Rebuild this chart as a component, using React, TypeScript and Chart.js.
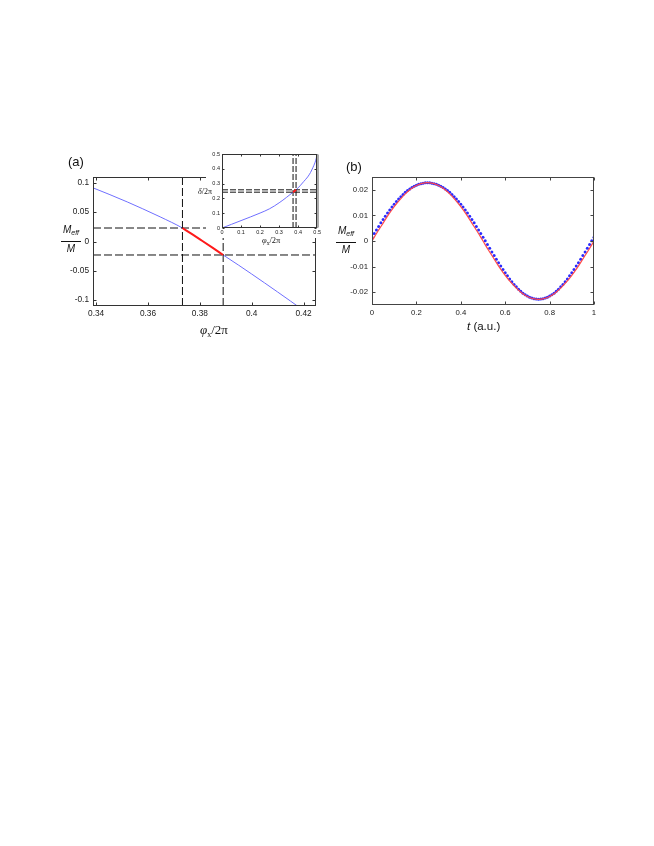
import React, { useEffect, useRef } from "react";
import { Chart, registerables } from "chart.js";
Chart.register(...registerables);

// ---------- Panel (a) main plot ----------
const mainXRange = [0.3388, 0.4248];
const mainYRange = [-0.11, 0.11];
const mainXTicks = [0.34, 0.36, 0.38, 0.4, 0.42];
const mainXLabels = ["0.34", "0.36", "0.38", "0.4", "0.42"];
const mainYTicks = [-0.1, -0.05, 0, 0.05, 0.1];
const mainYLabels = ["-0.1", "-0.05", "0", "0.05", "0.1"];
const mainCurveX = [0.3388, 0.345, 0.352, 0.358, 0.3647, 0.3733, 0.377, 0.381, 0.385, 0.389, 0.395, 0.4, 0.405, 0.41, 0.415, 0.42];
const mainCurveY = [0.0915, 0.0805, 0.0675, 0.0557, 0.042, 0.023, 0.0125, 0.0008, -0.011, -0.023, -0.0405, -0.0555, -0.0707, -0.0861, -0.1017, -0.1175];
const mainRedX = [0.3733, 0.377, 0.381, 0.385, 0.389];
const mainRedY = [0.023, 0.0125, 0.0008, -0.011, -0.023];
const mainDashY = [0.023, -0.023];
const dashX = [0.3733, 0.389];

// ---------- Panel (a) inset ----------
const insetXRange = [0, 0.5];
const insetYRange = [0, 0.5];
const insetTicks = [0, 0.1, 0.2, 0.3, 0.4, 0.5];
const insetLabels = ["0", "0.1", "0.2", "0.3", "0.4", "0.5"];
const insetCurveX = [0, 0.05, 0.1, 0.15, 0.2, 0.25, 0.3, 0.34, 0.3733, 0.381, 0.389, 0.41, 0.43, 0.45, 0.465, 0.478, 0.488, 0.495, 0.5];
const insetCurveY = [0, 0.025, 0.05, 0.075, 0.101, 0.13, 0.17, 0.208, 0.242, 0.25, 0.258, 0.285, 0.315, 0.345, 0.375, 0.41, 0.44, 0.47, 0.5];
const insetRedX = [0.3733, 0.381, 0.389];
const insetRedY = [0.242, 0.25, 0.258];
const insetDashY = [0.258, 0.242];

// ---------- Panel (b) ----------
const bXRange = [0, 1];
const bYRange = [-0.025, 0.025];
const bXTicks = [0, 0.2, 0.4, 0.6, 0.8, 1];
const bXLabels = ["0", "0.2", "0.4", "0.6", "0.8", "1"];
const bYTicks = [-0.02, -0.01, 0, 0.01, 0.02];
const bYLabels = ["-0.02", "-0.01", "0", "0.01", "0.02"];
const redStep = 0.025;
const redValues = [
  0, 0.0036, 0.007, 0.0104, 0.0134, 0.0161, 0.0184, 0.0203, 0.0217, 0.0225, 0.0228,
  0.0225, 0.0217, 0.0203, 0.0184, 0.0161, 0.0134, 0.0104, 0.007, 0.0036, 0,
  -0.0036, -0.007, -0.0104, -0.0134, -0.0161, -0.0184, -0.0203, -0.0217, -0.0225, -0.0228,
  -0.0225, -0.0217, -0.0203, -0.0184, -0.0161, -0.0134, -0.0104, -0.007, -0.0036, 0,
];
const dotStep = 0.01;
const blueDots = [
  0.0015, 0.0029, 0.0043, 0.0057, 0.0071, 0.0084, 0.0097, 0.0109, 0.0121, 0.0133, 0.0144, 0.0154, 0.0164,
  0.0173, 0.0182, 0.019, 0.0197, 0.0203, 0.0209, 0.0214, 0.0218, 0.0222, 0.0224, 0.0226, 0.0228, 0.0228,
  0.0228, 0.0226, 0.0224, 0.0222, 0.0218, 0.0214, 0.0209, 0.0203, 0.0197, 0.019, 0.0182, 0.0173, 0.0164,
  0.0154, 0.0144, 0.0133, 0.0121, 0.0109, 0.0097, 0.0084, 0.0071, 0.0057, 0.0043, 0.0029, 0.0015,
  0.0001, -0.0014, -0.0028, -0.0043, -0.0057, -0.0071, -0.0085, -0.0098, -0.0111, -0.0124, -0.0136, -0.0148,
  -0.0159, -0.017, -0.0179, -0.0188, -0.0196, -0.0204, -0.021, -0.0215, -0.022, -0.0223, -0.0226, -0.0227, -0.0228,
  -0.0227, -0.0226, -0.0223, -0.022, -0.0215, -0.021, -0.0204, -0.0196, -0.0188, -0.0179, -0.017, -0.0159,
  -0.0148, -0.0136, -0.0124, -0.0111, -0.0098, -0.0085, -0.0071, -0.0057, -0.0043, -0.0028, -0.0014, 0.0001, 0.0015,
];

const pts = (xs: number[], ys: number[]) => xs.map((x, i) => ({ x, y: ys[i] }));

const boxPlugin = {
  id: "box",
  afterDatasetsDraw(chart: any, _a: any, opts: any) {
    const { ctx, chartArea: a, scales } = chart;
    const L = Math.round(a.left) + 0.5;
    const R = Math.round(a.right) - 0.5;
    const T = Math.round(a.top) + 0.5;
    const B = Math.round(a.bottom) - 0.5;
    const tl = opts.tick ?? 3;
    ctx.save();
    ctx.setLineDash([]);
    ctx.strokeStyle = opts.color || "#333";
    ctx.lineWidth = 1;
    ctx.beginPath();
    for (const t of scales.x.ticks) {
      const p = Math.round(scales.x.getPixelForValue(t.value)) + 0.5;
      ctx.moveTo(p, B);
      ctx.lineTo(p, B - tl);
      ctx.moveTo(p, T);
      ctx.lineTo(p, T + tl);
    }
    for (const t of scales.y.ticks) {
      const p = Math.round(scales.y.getPixelForValue(t.value)) + 0.5;
      ctx.moveTo(L, p);
      ctx.lineTo(L + tl, p);
      ctx.moveTo(R, p);
      ctx.lineTo(R - tl, p);
    }
    ctx.stroke();
    ctx.strokeRect(L, T, R - L, B - T);
    if (opts.rightBar) {
      ctx.strokeStyle = opts.rightBar;
      ctx.lineWidth = 2;
      ctx.beginPath();
      ctx.moveTo(R + 1.5, T);
      ctx.lineTo(R + 1.5, B);
      ctx.stroke();
    }
    ctx.restore();
  },
};

function scale(axis: "x" | "y", range: number[], ticks: number[], labels: string[], size: number, fit: number, padding: number) {
  return {
    type: "linear",
    min: range[0],
    max: range[1],
    grid: { display: false, drawTicks: false },
    border: { display: false },
    afterBuildTicks: (s: any) => {
      s.ticks = ticks.map((v) => ({ value: v }));
    },
    afterFit: (s: any) => {
      if (axis === "x") s.height = fit;
      else s.width = fit;
    },
    ticks: {
      autoSkip: false,
      maxRotation: 0,
      padding,
      color: "#1a1a1a",
      font: { family: "Liberation Sans", size },
      callback: (_v: any, i: number) => labels[i],
    },
  };
}

function baseOptions(padding: any, xs: any, ys: any, box: any) {
  return {
    responsive: false,
    animation: false,
    devicePixelRatio: 1,
    events: [],
    layout: { padding },
    plugins: { legend: { display: false }, tooltip: { enabled: false }, box },
    scales: { x: xs, y: ys },
  };
}

function mainConfig() {
  const dash = { borderColor: "#111", borderWidth: 1, borderDash: [8, 3], pointRadius: 0, showLine: true, order: 1 };
  return {
    type: "scatter",
    data: {
      datasets: [
        { data: pts(mainRedX, mainRedY), borderColor: "#ff1a1a", borderWidth: 2, pointRadius: 0, showLine: true, cubicInterpolationMode: "monotone", order: 0 },
        ...mainDashY.map((y) => ({ ...dash, data: [{ x: mainXRange[0], y }, { x: mainXRange[1], y }] })),
        ...dashX.map((x) => ({ ...dash, data: [{ x, y: mainYRange[0] }, { x, y: mainYRange[1] }] })),
        { data: pts(mainCurveX, mainCurveY), borderColor: "#6f6fff", borderWidth: 1, pointRadius: 0, showLine: true, cubicInterpolationMode: "monotone", order: 2 },
      ],
    },
    options: baseOptions(
      { top: 37, right: 14, left: 0, bottom: 0 },
      scale("x", mainXRange, mainXTicks, mainXLabels, 8.3, 59, 3),
      scale("y", mainYRange, mainYTicks, mainYLabels, 8.3, 73, 4),
      { color: "#333", tick: 3 }
    ),
    plugins: [boxPlugin],
  };
}

function insetConfig() {
  const dash = { borderColor: "#111", borderWidth: 1, borderDash: [6, 2], pointRadius: 0, showLine: true, order: 1 };
  return {
    type: "scatter",
    data: {
      datasets: [
        { data: pts(insetRedX, insetRedY), borderColor: "#ff1a1a", borderWidth: 2, pointRadius: 0, showLine: true, order: 0 },
        ...insetDashY.map((y) => ({ ...dash, data: [{ x: insetXRange[0], y }, { x: insetXRange[1], y }] })),
        ...dashX.map((x) => ({ ...dash, data: [{ x, y: insetYRange[0] }, { x, y: insetYRange[1] }] })),
        { data: pts(insetCurveX, insetCurveY), borderColor: "#6f6fff", borderWidth: 1, pointRadius: 0, showLine: true, cubicInterpolationMode: "monotone", order: 2 },
      ],
    },
    options: baseOptions(
      { top: 9, right: 4, left: 0, bottom: 0 },
      scale("x", insetXRange, insetTicks, insetLabels, 5.5, 10, 1),
      scale("y", insetYRange, insetTicks, insetLabels, 5.5, 16, 2),
      { color: "#333", tick: 2, rightBar: "#aaa" }
    ),
    plugins: [boxPlugin],
  };
}

function bConfig() {
  return {
    type: "scatter",
    data: {
      datasets: [
        { data: redValues.map((y, i) => ({ x: i * redStep, y })), borderColor: "#ff4a4a", borderWidth: 1.2, pointRadius: 0, showLine: true, cubicInterpolationMode: "monotone", order: 0 },
        { data: blueDots.map((y, i) => ({ x: i * dotStep, y })), backgroundColor: "#2a2aff", borderWidth: 0, pointRadius: 1.5, showLine: false, order: 1 },
      ],
    },
    options: baseOptions(
      { top: 37, right: 21, left: 0, bottom: 0 },
      scale("x", bXRange, bXTicks, bXLabels, 7.8, 60, 3),
      scale("y", bYRange, bYTicks, bYLabels, 7.8, 37, 4),
      { color: "#444", tick: 3 }
    ),
    plugins: [boxPlugin],
  };
}

function ChartCanvas({ left, top, width, height, make, bg }: any) {
  const ref = useRef<HTMLCanvasElement>(null);
  useEffect(() => {
    const c = new Chart(ref.current as any, make() as any);
    return () => c.destroy();
  }, []);
  return (
    <canvas
      ref={ref}
      width={width}
      height={height}
      style={{ position: "absolute", left, top, width, height, background: bg }}
    />
  );
}

function Frac({ left, top, width }: any) {
  return (
    <div style={{ position: "absolute", left, top, width, textAlign: "center", fontFamily: "Liberation Sans", fontStyle: "italic", fontSize: 10, color: "#111" }}>
      <div style={{ lineHeight: "12px" }}>
        M<span style={{ fontSize: 7, position: "relative", top: 2 }}>eff</span>
      </div>
      <div style={{ borderTop: "1px solid #111", marginTop: 4, marginBottom: 1 }} />
      <div style={{ lineHeight: "12px" }}>M</div>
    </div>
  );
}

const abs = (s: any) => ({ position: "absolute", whiteSpace: "nowrap", lineHeight: 1, color: "#111", ...s });

export default function App() {
  return (
    <div style={{ position: "absolute", left: 0, top: 0, width: 654, height: 846, background: "#fff", overflow: "hidden" }}>
      <ChartCanvas left={20} top={140} width={310} height={225} make={mainConfig} />
      <ChartCanvas left={335} top={140} width={280} height={225} make={bConfig} />
      <ChartCanvas left={206} top={145} width={116} height={93} make={insetConfig} bg="#fff" />
      <div style={abs({ left: 68, top: 155, fontFamily: "Liberation Sans", fontSize: 13 })}>(a)</div>
      <div style={abs({ left: 346, top: 160, fontFamily: "Liberation Sans", fontSize: 13 })}>(b)</div>
      <Frac left={61} top={224} width={20} />
      <Frac left={336} top={225} width={20} />
      <div style={abs({ left: 200, top: 323, fontFamily: "Liberation Serif", fontSize: 13 })}>
        <i>φ</i><span style={{ fontSize: 8, position: "relative", top: 3 }}>x</span>/2π
      </div>
      <div style={abs({ left: 467, top: 321, fontFamily: "Liberation Sans", fontSize: 11.5 })}>
        <i>t</i> (a.u.)
      </div>
      <div style={abs({ left: 262, top: 236, fontFamily: "Liberation Serif", fontSize: 8.5 })}>
        <i>φ</i><span style={{ fontSize: 5.5, position: "relative", top: 2 }}>x</span>/2π
      </div>
      <div style={abs({ left: 198, top: 188, fontFamily: "Liberation Serif", fontSize: 8 })}>
        <i>δ</i>/2π
      </div>
    </div>
  );
}
